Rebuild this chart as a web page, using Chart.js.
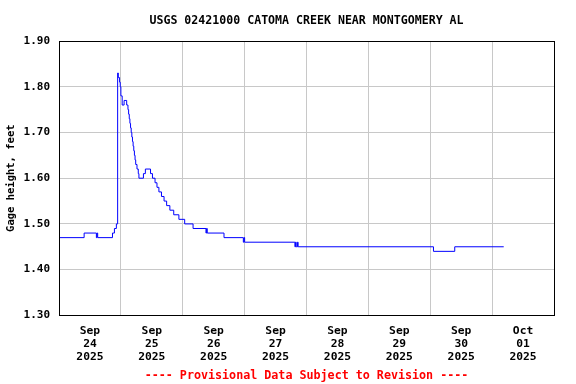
<!DOCTYPE html>
<html lang="en">
<head>
<meta charset="UTF-8">
<script src="https://cdn.jsdelivr.net/npm/chart.js"></script>
<title>Catoma Creek gage height</title>
<style>
  html, body { margin: 0; padding: 0; background: #fff; }
  #wrap { width: 576px; height: 384px; }
</style>
</head>
<body>
<div id="wrap"><canvas id="gageChart" width="576" height="384"></canvas></div>
<script>
  // readings as change points: the value holds until the next stamp
  const stamps = [
    '09-24 00:00', '09-24 09:45', '09-24 14:30', '09-24 14:45', '09-24 15:00',
    '09-24 20:45', '09-24 21:30', '09-24 22:15', '09-24 22:45', '09-24 23:00',
    '09-24 23:30', '09-24 23:45', '09-25 00:00', '09-25 00:30', '09-25 01:15',
    '09-25 02:15', '09-25 02:45', '09-25 03:00', '09-25 03:15', '09-25 03:30',
    '09-25 03:45', '09-25 04:00', '09-25 04:15', '09-25 04:30', '09-25 04:45',
    '09-25 05:00', '09-25 05:15', '09-25 05:30', '09-25 05:45', '09-25 06:15',
    '09-25 06:45', '09-25 07:00', '09-25 08:45', '09-25 09:30', '09-25 11:30',
    '09-25 12:15', '09-25 13:15', '09-25 14:00', '09-25 14:45', '09-25 15:45',
    '09-25 16:45', '09-25 17:45', '09-25 19:00', '09-25 20:30', '09-25 22:30',
    '09-26 00:45', '09-26 04:00', '09-26 09:00', '09-26 09:15', '09-26 09:30',
    '09-26 16:00', '09-26 23:30', '09-26 23:45', '09-27 00:00', '09-27 19:30',
    '09-27 19:45', '09-27 20:00', '09-27 20:30', '09-27 20:45', '09-30 01:15',
    '09-30 09:30', '10-01 04:30'
  ];
  const gage = [
    1.47, 1.48, 1.47, 1.48, 1.47,
    1.48, 1.49, 1.50, 1.83, 1.82,
    1.81, 1.80, 1.78, 1.76, 1.77,
    1.76, 1.75, 1.74, 1.73, 1.72,
    1.71, 1.70, 1.69, 1.68, 1.67,
    1.66, 1.65, 1.64, 1.63, 1.62,
    1.61, 1.60, 1.61, 1.62, 1.61,
    1.60, 1.59, 1.58, 1.57, 1.56,
    1.55, 1.54, 1.53, 1.52, 1.51,
    1.50, 1.49, 1.48, 1.49, 1.48,
    1.47, 1.46, 1.47, 1.46, 1.45,
    1.46, 1.45, 1.46, 1.45, 1.44,
    1.45, 1.45
  ];
  const dayLabels = [
    ['Sep', '24', '2025'], ['Sep', '25', '2025'], ['Sep', '26', '2025'], ['Sep', '27', '2025'],
    ['Sep', '28', '2025'], ['Sep', '29', '2025'], ['Sep', '30', '2025'], ['Oct', '01', '2025']
  ];
  const yTicks = [1.30, 1.40, 1.50, 1.60, 1.70, 1.80, 1.90];

  // hours since Sep 24 00:00
  function toHours(s) {
    const [md, hm] = s.split(' ');
    const [mo, d] = md.split('-').map(Number);
    const [h, m] = hm.split(':').map(Number);
    const dayIdx = mo === 9 ? d - 24 : d + 6;
    return dayIdx * 24 + h + m / 60;
  }
  const points = stamps.map((s, i) => ({ x: toHours(s), y: gage[i] }));
  const labelCenters = dayLabels.map((l, i) => i * 24 + 12);

  const mono = 'DejaVu Sans Mono';

  // black frame round the plot
  const framePlugin = {
    id: 'frame',
    afterDraw(chart) {
      const a = chart.chartArea;
      const ctx = chart.ctx;
      ctx.save();
      ctx.strokeStyle = '#000';
      ctx.lineWidth = 1;
      ctx.strokeRect(Math.round(a.left) + 0.5, Math.round(a.top) + 0.5,
        Math.round(a.right - a.left), Math.round(a.bottom - a.top));
      ctx.restore();
    }
  };

  new Chart(document.getElementById('gageChart'), {
    type: 'line',
    data: {
      datasets: [{
        data: points,
        borderColor: '#0000ff',
        borderWidth: 1,
        pointRadius: 0,
        stepped: 'before',
        fill: false
      }]
    },
    options: {
      responsive: false,
      animation: false,
      layout: { padding: { left: 0, right: 22, top: 0, bottom: 0 } },
      plugins: {
        legend: { display: false },
        tooltip: { enabled: false },
        title: {
          display: true,
          fullSize: false,
          text: 'USGS 02421000 CATOMA CREEK NEAR MONTGOMERY AL',
          color: '#000',
          font: { family: mono, size: 11.6, weight: 'bold', lineHeight: 1.2 },
          padding: { top: 14, bottom: 13.1 }
        },
        subtitle: {
          display: true,
          fullSize: false,
          position: 'bottom',
          text: '---- Provisional Data Subject to Revision ----',
          color: '#ff0000',
          font: { family: mono, size: 11.7, weight: 'bold', lineHeight: 1.2 },
          padding: { top: 0, bottom: 1 }
        }
      },
      scales: {
        x: {
          type: 'linear',
          position: 'bottom',
          min: 0,
          max: 192,
          weight: 0,
          ticks: { display: false, stepSize: 24 },
          grid: { color: '#c8c8c8', drawTicks: false },
          border: { display: false },
          afterFit: axis => { axis.height = 0; }
        },
        x2: {
          type: 'linear',
          position: 'bottom',
          min: 0,
          max: 192,
          weight: 1,
          grid: { display: false, drawTicks: false },
          border: { display: false },
          afterBuildTicks: axis => { axis.ticks = labelCenters.map(v => ({ value: v })); },
          ticks: {
            autoSkip: false,
            maxRotation: 0,
            padding: 9,
            color: '#000',
            font: { family: mono, size: 11.3, weight: 'bold', lineHeight: 1.15 },
            callback: (v) => dayLabels[Math.round((v - 12) / 24)]
          },
          afterFit: axis => { axis.height = 53.6; }
        },
        y: {
          type: 'linear',
          min: 1.3,
          max: 1.9,
          afterBuildTicks: axis => { axis.ticks = yTicks.map(v => ({ value: v })); },
          ticks: {
            padding: 9,
            color: '#000',
            font: { family: mono, size: 11, weight: 'bold' },
            callback: v => v.toFixed(2)
          },
          grid: { color: '#c8c8c8', drawTicks: false },
          border: { display: false },
          title: {
            display: true,
            text: 'Gage height, feet',
            color: '#000',
            font: { family: mono, size: 10.5, weight: 'bold', lineHeight: 1.2 },
            padding: { top: 5, bottom: 0 }
          },
          afterFit: axis => { axis.width = 59; }
        }
      }
    },
    plugins: [framePlugin]
  });
</script>
</body>
</html>
